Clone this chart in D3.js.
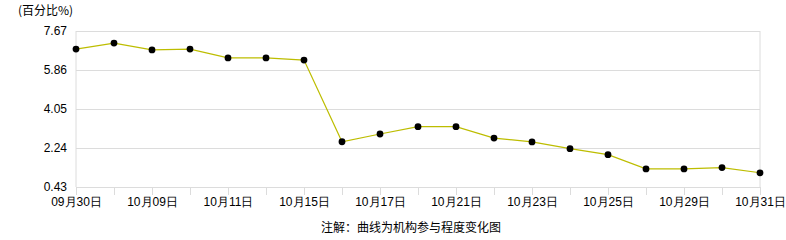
<!DOCTYPE html>
<html>
<head>
<meta charset="utf-8">
<script src="https://cdn.jsdelivr.net/npm/d3@7"></script>
<style>
  body { margin: 0; background: #fff; }
  svg { display: block; font-family: "Noto Sans CJK SC", "DejaVu Sans", sans-serif; }
</style>
</head>
<body>
<div id="chart"></div>
<script>
// trading days shown on the x axis (only every other one gets a label)
const dates = ['09月30日', '10月08日', '10月09日', '10月10日', '10月11日', '10月14日', '10月15日',
  '10月16日', '10月17日', '10月18日', '10月21日', '10月22日', '10月23日', '10月24日',
  '10月25日', '10月28日', '10月29日', '10月30日', '10月31日'];

// institution participation (%)
const values = [6.83, 7.11, 6.79, 6.83, 6.42, 6.42, 6.32, 2.53, 2.89, 3.23, 3.23,
  2.70, 2.52, 2.21, 1.93, 1.27, 1.27, 1.33, 1.09];

const yTicks = [0.43, 2.24, 4.05, 5.86, 7.67];

const width = 786, height = 240;
const margin = { top: 31, right: 26, bottom: 53, left: 76 };
const innerW = width - margin.left - margin.right;
const innerH = height - margin.top - margin.bottom;

const svg = d3.select('#chart')
  .append('svg')
  .attr('width', width)
  .attr('height', height);

const g = svg.append('g')
  .attr('transform', `translate(${margin.left},${margin.top})`);

const x = d3.scalePoint()
  .domain(dates)
  .range([0, innerW]);

const y = d3.scaleLinear()
  .domain([yTicks[0], yTicks[yTicks.length - 1]])
  .range([innerH, 0]);

// horizontal grid lines + y labels
const yAxis = g.append('g')
  .call(d3.axisLeft(y).tickValues(yTicks).tickSize(-innerW).tickFormat(d3.format('.2f')));
yAxis.select('.domain').remove();
yAxis.selectAll('line').attr('stroke', '#dcdcdc');
yAxis.selectAll('text')
  .attr('x', -9)
  .attr('fill', '#000')
  .style('font-size', '12px');

// left and right frame lines
g.append('line')
  .attr('x1', 0).attr('x2', 0)
  .attr('y1', 0).attr('y2', innerH)
  .attr('stroke', '#dcdcdc');
g.append('line')
  .attr('x1', innerW).attr('x2', innerW)
  .attr('y1', 0).attr('y2', innerH)
  .attr('stroke', '#dcdcdc');

// bottom axis with a tick at every day
const xAxis = g.append('g')
  .attr('transform', `translate(0,${innerH})`)
  .call(d3.axisBottom(x).tickSize(8).tickPadding(2)
    .tickFormat((d, i) => i % 2 === 0 ? d : ''));
xAxis.select('.domain').attr('stroke', '#dcdcdc');
xAxis.selectAll('line').attr('stroke', '#dcdcdc');
xAxis.selectAll('text')
  .attr('fill', '#000')
  .style('font-size', '12px');

// the curve
const line = d3.line()
  .x((d, i) => x(dates[i]))
  .y(d => y(d));

g.append('path')
  .datum(values)
  .attr('fill', 'none')
  .attr('stroke', '#bdbd00')
  .attr('stroke-width', 1.2)
  .attr('d', line);

g.selectAll('.dot')
  .data(values)
  .enter()
  .append('circle')
  .attr('class', 'dot')
  .attr('cx', (d, i) => x(dates[i]))
  .attr('cy', d => y(d))
  .attr('r', 3.4)
  .attr('fill', '#000');

// unit label
svg.append('text')
  .attr('x', 18)
  .attr('y', 15)
  .style('font-size', '12px')
  .text('(百分比%)');

// footnote
svg.append('text')
  .attr('x', 411)
  .attr('y', 232)
  .attr('text-anchor', 'middle')
  .style('font-size', '12px')
  .text('注解：曲线为机构参与程度变化图');
</script>
</body>
</html>
